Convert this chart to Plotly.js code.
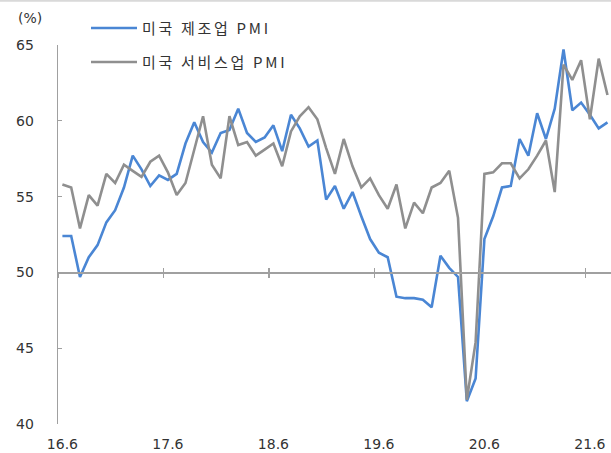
<!DOCTYPE html>
<html>
<head>
<meta charset="utf-8">
<script src="https://cdn.plot.ly/plotly-3.0.1.min.js"></script>
<style>
html,body{margin:0;padding:0;background:#fff;}
#chart{width:611px;height:453px;}
text.legendtext{letter-spacing:2.7px;}
</style>
</head>
<body>
<div id="chart"></div>
<script>
const months = ['16.6','16.7','16.8','16.9','16.10','16.11','16.12',
  '17.1','17.2','17.3','17.4','17.5','17.6','17.7','17.8','17.9','17.10','17.11','17.12',
  '18.1','18.2','18.3','18.4','18.5','18.6','18.7','18.8','18.9','18.10','18.11','18.12',
  '19.1','19.2','19.3','19.4','19.5','19.6','19.7','19.8','19.9','19.10','19.11','19.12',
  '20.1','20.2','20.3','20.4','20.5','20.6','20.7','20.8','20.9','20.10','20.11','20.12',
  '21.1','21.2','21.3','21.4','21.5','21.6','21.7','21.8'];
const tickLabels = ['16.6','17.6','18.6','19.6','20.6','21.6'];
const manufacturingName = '미국 제조업 PMI';
const servicesName = '미국 서비스업 PMI';
const manufacturing = [52.4,52.4,49.7,51.0,51.8,53.3,54.1,
  55.6,57.7,56.8,55.7,56.4,56.1,56.5,58.5,59.9,58.6,57.9,59.2,
  59.4,60.8,59.2,58.6,58.9,59.7,58.0,60.4,59.5,58.3,58.7,54.8,
  55.7,54.2,55.3,53.7,52.2,51.3,51.0,48.4,48.3,48.3,48.2,47.7,
  51.1,50.3,49.7,41.5,43.0,52.2,53.7,55.6,55.7,58.8,57.7,60.5,
  58.8,60.8,64.7,60.7,61.2,60.4,59.5,59.9];
const services = [55.8,55.6,52.9,55.1,54.4,56.5,55.9,
  57.1,56.7,56.3,57.3,57.7,56.6,55.1,55.9,58.1,60.3,57.1,56.2,
  60.3,58.4,58.6,57.7,58.1,58.5,57.0,59.3,60.3,60.9,60.1,58.2,
  56.5,58.8,57.0,55.6,56.2,55.1,54.2,55.8,52.9,54.6,53.9,55.6,
  55.9,56.7,53.6,41.6,45.4,56.5,56.6,57.2,57.2,56.2,56.8,57.7,
  58.7,55.3,63.7,62.7,64.0,60.1,64.1,61.7];
const yTicks = [40,45,50,55,60,65];

const idx = months.map((m,i)=>i);
const tickIdx = tickLabels.map(t=>months.indexOf(t));
const boundaryIdx = tickIdx.map(i=>i-0.5);

const FONT = '"DejaVu Sans", "Liberation Sans", "Noto Sans CJK KR", sans-serif';
const AX = '#a0a0a0';
const xr = [-0.5, 62.4];
const H = 379;

const traces = [
  {x: idx, y: manufacturing, name: manufacturingName, type:'scatter', mode:'lines',
   line:{color:'#4a86d4', width:2.6}, legendgroup:'m', hoverinfo:'skip'},
  {x: idx, y: services, name: servicesName, type:'scatter', mode:'lines',
   line:{color:'#8f8f8f', width:2.6}, legendgroup:'s', hoverinfo:'skip'}
];

const legendFont = {family: '"Noto Sans CJK KR", "Liberation Sans", sans-serif', size:15, color:'#333'};
const layout = {
  width:611, height:453,
  margin:{l:58, r:0, t:45.3, b:28.7, pad:0},
  paper_bgcolor:'#fff', plot_bgcolor:'rgba(0,0,0,0)',
  font:{family:FONT, color:'#333', size:14},
  showlegend:true,
  legend:{x:(86-58)/553, xanchor:'left', y:1+(45.3-12)/H, yanchor:'top', bgcolor:'rgba(0,0,0,0)',
    font:legendFont, itemwidth:46, borderwidth:0, traceorder:'grouped', tracegroupgap:11.5},
  xaxis:{range:xr, tickmode:'array', tickvals:tickIdx, ticktext:tickLabels,
    showline:false, showgrid:false, zeroline:false, ticks:'', ticklabelstandoff:10,
    tickfont:{family:FONT, size:14, color:'#333'}, fixedrange:true},
  xaxis2:{range:xr, overlaying:'x', anchor:'free', position:0.4, side:'bottom',
    tickmode:'array', tickvals:boundaryIdx, showticklabels:false,
    ticks:'outside', ticklen:4.5, tickwidth:1.2, tickcolor:AX,
    showline:true, linecolor:AX, linewidth:1.4, showgrid:false, zeroline:false},
  xaxis3:{range:xr, overlaying:'x', anchor:'free', position:0.4, side:'bottom',
    tickmode:'array', tickvals:boundaryIdx, showticklabels:false,
    ticks:'inside', ticklen:4.5, tickwidth:1.2, tickcolor:AX,
    showline:false, showgrid:false, zeroline:false},
  yaxis:{range:[40,65], tickmode:'array', tickvals:yTicks, ticktext:yTicks.map(String),
    showline:true, linecolor:AX, linewidth:1.4, ticks:'inside', ticklen:3.5, tickwidth:1.2, tickcolor:AX,
    showgrid:false, zeroline:false, ticklabelstandoff:20,
    tickfont:{family:FONT, size:14, color:'#333'}, fixedrange:true},
  annotations:[{text:'(%)', xref:'paper', yref:'paper', x:(30-58)/553, y:1+27/H,
    xanchor:'center', yanchor:'middle', showarrow:false,
    font:{family:FONT, size:14, color:'#333'}}],
  shapes:[{type:'line', xref:'paper', yref:'paper', x0:-58/553, x1:1, y0:1+44.3/H, y1:1+44.3/H,
    line:{color:'#d9d9d9', width:2}}]
};

// invisible traces to activate overlay axes
traces.push({x:[0], y:[50], xaxis:'x2', type:'scatter', mode:'none', showlegend:false, hoverinfo:'skip'});
traces.push({x:[0], y:[50], xaxis:'x3', type:'scatter', mode:'none', showlegend:false, hoverinfo:'skip'});

function widenLegend(gd){
  gd.querySelectorAll('text.legendtext').forEach(t => { t.style.letterSpacing = '2.7px'; });
  gd.querySelectorAll('[class*="legend"]').forEach(l => {
    l.removeAttribute('clip-path');
    l.querySelectorAll('[clip-path]').forEach(n => n.removeAttribute('clip-path'));
  });
}
Plotly.newPlot('chart', traces, layout, {staticPlot:true, displayModeBar:false}).then(gd => {
  widenLegend(gd);
  gd.on('plotly_afterplot', () => widenLegend(gd));
});
</script>
</body>
</html>
